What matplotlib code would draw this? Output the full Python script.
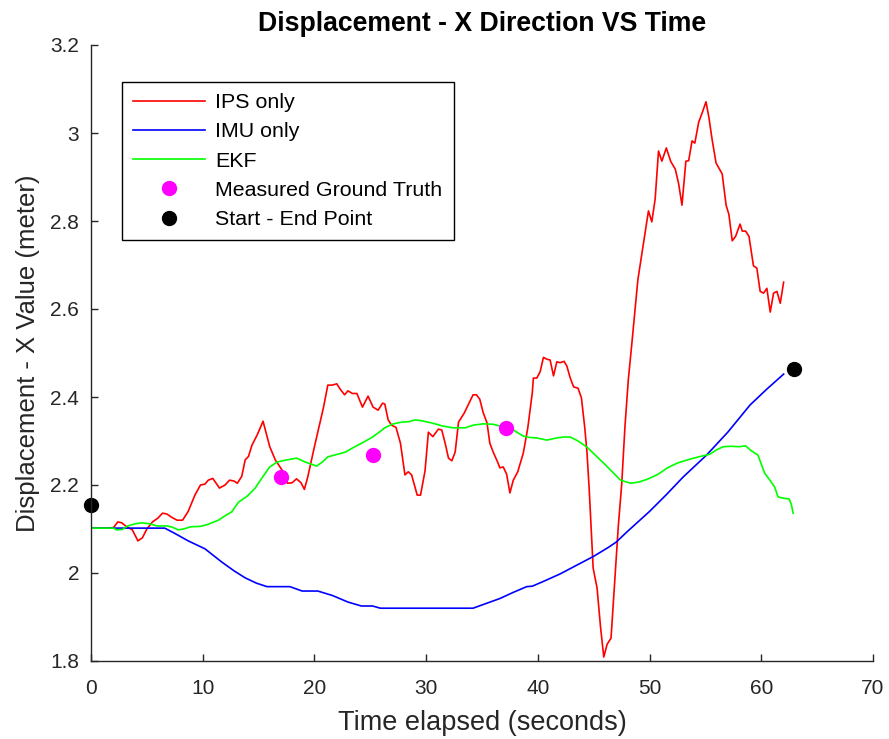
import matplotlib
matplotlib.use("Agg")
import matplotlib.pyplot as plt

plt.rcParams['font.family'] = ['Liberation Sans', 'DejaVu Sans']

# IPS-only position estimate (x, metres) over time (s)
ips_t = [0.0, 1.0, 2.0, 2.4, 2.75, 3.2, 3.7, 4.2, 4.6, 5.0, 5.5, 6.0, 6.4, 6.8, 7.2,
         7.7, 8.2, 8.7, 9.3, 9.8, 10.2, 10.5, 10.9, 11.5, 12.0, 12.4, 12.8, 13.1, 13.5,
         13.8, 14.1, 14.4, 14.9, 15.4, 16.0, 16.5, 17.1, 17.6, 18.0, 18.4, 18.8, 19.1,
         19.4, 20.0, 20.8, 21.2, 21.6, 22.0, 22.3, 22.7, 23.0, 23.4, 23.8, 24.3, 24.8,
         25.25, 25.7, 26.1, 26.3, 26.6, 26.9, 27.3, 27.7, 28.1, 28.4, 28.7, 29.2, 29.5,
         29.9, 30.2, 30.6, 31.1, 31.4, 31.7, 32.0, 32.3, 32.6, 32.9, 33.4, 33.9, 34.2,
         34.5, 34.8, 35.1, 35.45, 35.7, 36.0, 36.4, 36.6, 36.9, 37.2, 37.5, 37.8, 38.2,
         38.7, 39.1, 39.5, 39.6, 39.9, 40.2, 40.5, 40.8, 41.1, 41.4, 41.7, 42.0, 42.35,
         42.6, 42.9, 43.2, 43.6, 43.9, 44.2, 44.4, 44.6, 44.95, 45.3, 45.6, 45.9, 46.2,
         46.55, 46.9, 47.2, 47.5, 47.8, 48.1, 48.4, 48.7, 48.95, 49.4, 49.9, 50.2, 50.5,
         50.8, 51.1, 51.5, 51.9, 52.3, 52.6, 52.9, 53.25, 53.5, 53.8, 54.05, 54.4, 54.7,
         55.05, 55.3, 55.6, 55.95, 56.5, 56.85, 57.1, 57.4, 57.7, 58.1, 58.3, 58.6, 58.9,
         59.3, 59.6, 59.9, 60.2, 60.5, 60.8, 61.1, 61.4, 61.7, 62.0]
ips_x = [2.102, 2.102, 2.103, 2.116, 2.114, 2.105, 2.098, 2.073, 2.080, 2.100, 2.116,
         2.125, 2.136, 2.134, 2.127, 2.120, 2.120, 2.140, 2.177, 2.200, 2.202, 2.211,
         2.215, 2.193, 2.200, 2.211, 2.209, 2.204, 2.220, 2.257, 2.265, 2.290, 2.315,
         2.345, 2.287, 2.257, 2.234, 2.204, 2.205, 2.214, 2.205, 2.190, 2.218, 2.287,
         2.375, 2.427, 2.427, 2.430, 2.418, 2.405, 2.414, 2.408, 2.408, 2.377, 2.402,
         2.377, 2.370, 2.386, 2.384, 2.348, 2.336, 2.331, 2.295, 2.223, 2.230, 2.223,
         2.177, 2.177, 2.232, 2.320, 2.310, 2.327, 2.325, 2.295, 2.261, 2.255, 2.275,
         2.343, 2.363, 2.389, 2.405, 2.405, 2.395, 2.365, 2.341, 2.295, 2.275, 2.252,
         2.239, 2.241, 2.225, 2.182, 2.211, 2.230, 2.273, 2.330, 2.409, 2.443, 2.443,
         2.457, 2.490, 2.486, 2.484, 2.448, 2.480, 2.478, 2.481, 2.470, 2.443, 2.423,
         2.420, 2.398, 2.330, 2.273, 2.189, 2.011, 1.966, 1.880, 1.809, 1.838, 1.852,
         1.990, 2.106, 2.200, 2.334, 2.440, 2.518, 2.600, 2.666, 2.740, 2.823, 2.798,
         2.850, 2.959, 2.936, 2.966, 2.935, 2.918, 2.885, 2.836, 2.936, 2.937, 2.982,
         2.977, 3.025, 3.045, 3.071, 3.037, 2.985, 2.932, 2.907, 2.836, 2.815, 2.755,
         2.765, 2.793, 2.777, 2.777, 2.765, 2.698, 2.693, 2.640, 2.636, 2.647, 2.593,
         2.636, 2.640, 2.613, 2.661]

# IMU-only dead-reckoning estimate
imu_t = [0.0, 6.6, 7.5, 8.7, 10.2, 11.7, 12.8, 13.8, 14.8, 15.75, 17.8, 18.9, 20.3,
         21.6, 23.0, 24.2, 25.2, 25.9, 34.2, 35.4, 36.6, 37.8, 39.0, 39.5, 40.6, 42.0,
         43.5, 45.0, 46.3, 47.0, 48.0, 50.0, 51.5, 53.0, 55.1, 57.0, 59.0, 60.5, 62.0]
imu_x = [2.102, 2.102, 2.090, 2.073, 2.055, 2.025, 2.005, 1.989, 1.977, 1.969, 1.969,
         1.959, 1.959, 1.949, 1.934, 1.925, 1.925, 1.920, 1.920, 1.931, 1.942, 1.956,
         1.969, 1.970, 1.982, 1.998, 2.018, 2.038, 2.058, 2.070, 2.094, 2.140, 2.178,
         2.218, 2.268, 2.320, 2.382, 2.418, 2.452]

# Extended Kalman filter fused estimate
ekf_t = [0.0, 2.0, 2.3, 2.8, 3.3, 4.0, 4.55, 5.2, 5.9, 6.8, 7.3, 7.8, 8.3, 8.9, 9.8,
         10.4, 11.4, 12.0, 12.6, 13.2, 14.0, 14.7, 15.3, 16.0, 16.65, 17.3, 18.4, 19.2,
         20.2, 20.7, 21.2, 22.1, 22.8, 23.4, 24.3, 25.2, 25.8, 26.3, 27.05, 27.85, 28.5,
         29.0, 29.6, 30.5, 31.5, 32.4, 33.5, 34.2, 35.1, 36.0, 36.9, 37.8, 38.7, 39.3,
         39.9, 40.8, 41.7, 42.3, 42.9, 43.6, 44.4, 45.3, 46.0, 46.5, 47.4, 48.3, 49.1,
         49.9, 50.8, 51.6, 52.5, 53.5, 54.4, 55.4, 56.0, 56.6, 57.3, 58.0, 58.6, 59.0,
         59.4, 59.7, 60.3, 60.8, 61.2, 61.5, 62.0, 62.5, 62.7, 62.85]
ekf_x = [2.102, 2.102, 2.098, 2.099, 2.107, 2.112, 2.114, 2.112, 2.107, 2.107, 2.104,
         2.098, 2.100, 2.105, 2.106, 2.110, 2.120, 2.130, 2.139, 2.161, 2.175, 2.193,
         2.216, 2.241, 2.252, 2.256, 2.261, 2.252, 2.243, 2.252, 2.264, 2.270, 2.275,
         2.284, 2.296, 2.309, 2.320, 2.330, 2.339, 2.343, 2.344, 2.348, 2.346, 2.341,
         2.334, 2.330, 2.330, 2.336, 2.339, 2.338, 2.332, 2.325, 2.311, 2.308, 2.307,
         2.302, 2.307, 2.309, 2.309, 2.300, 2.286, 2.264, 2.247, 2.234, 2.211, 2.204,
         2.207, 2.214, 2.225, 2.239, 2.250, 2.258, 2.264, 2.270, 2.280, 2.287, 2.288,
         2.287, 2.289, 2.280, 2.273, 2.268, 2.227, 2.210, 2.195, 2.173, 2.170, 2.168,
         2.155, 2.136]

# Ground-truth checkpoints and the start / end positions
truth_t = [17.0, 25.2, 37.15]
truth_x = [2.218, 2.268, 2.330]
ends_t = [0.0, 62.9]
ends_x = [2.155, 2.464]

x_ticks = [0, 10, 20, 30, 40, 50, 60, 70]
y_ticks = [1.8, 2.0, 2.2, 2.4, 2.6, 2.8, 3.0, 3.2]
y_tick_labels = ['1.8', '2', '2.2', '2.4', '2.6', '2.8', '3', '3.2']

W, H = 889, 739
fig = plt.figure(figsize=(W / 100, H / 100), dpi=100)
ax = fig.add_axes([91 / W, 1 - 661 / H, (873 - 91) / W, (661 - 45) / H])

lw = 1.2
ax.plot(ips_t, ips_x, color=(1, 0, 0), lw=lw, label='IPS only')
ax.plot(imu_t, imu_x, color=(0, 0, 1), lw=lw, label='IMU only')
ax.plot(ekf_t, ekf_x, color=(0, 1, 0), lw=lw, label='EKF')
ax.plot(truth_t, truth_x, ls='none', marker='o', ms=10, color=(1, 0, 1),
        label='Measured Ground Truth')
ax.plot(ends_t, ends_x, ls='none', marker='o', ms=10, color='black',
        label='Start - End Point', clip_on=False)

ax.set_xlim(0, 70)
ax.set_ylim(1.8, 3.2)
ax.set_xticks(x_ticks)
ax.set_yticks(y_ticks)
ax.set_yticklabels(y_tick_labels)

axis_color = '#262626'
for side in ('top', 'right'):
    ax.spines[side].set_visible(False)
for side in ('left', 'bottom'):
    ax.spines[side].set_color(axis_color)
    ax.spines[side].set_linewidth(1.0)
ax.tick_params(direction='in', length=5, width=1.0, colors=axis_color,
               labelsize=15)
ax.tick_params(axis='x', pad=13)
ax.tick_params(axis='y', pad=8.5)

ax.set_xlabel('Time elapsed (seconds)', fontsize=19.5, color=axis_color,
              labelpad=8.5)
ax.set_ylabel('Displacement - X Value (meter)', fontsize=18.5, color=axis_color,
              labelpad=7.5)
ax.set_title('Displacement - X Direction VS Time', fontsize=19.2, fontweight='bold',
             pad=10)

leg = ax.legend(loc='upper left', bbox_to_anchor=(122 / W, 1 - 82 / H),
                bbox_transform=fig.transFigure, fontsize=15.4, frameon=True,
                fancybox=False, edgecolor='black', framealpha=1,
                handlelength=3.35, handletextpad=0.5, labelspacing=0.48,
                borderpad=0.52, borderaxespad=0)
leg.get_frame().set_linewidth(1.0)

fig.savefig('out.png', dpi=100)
